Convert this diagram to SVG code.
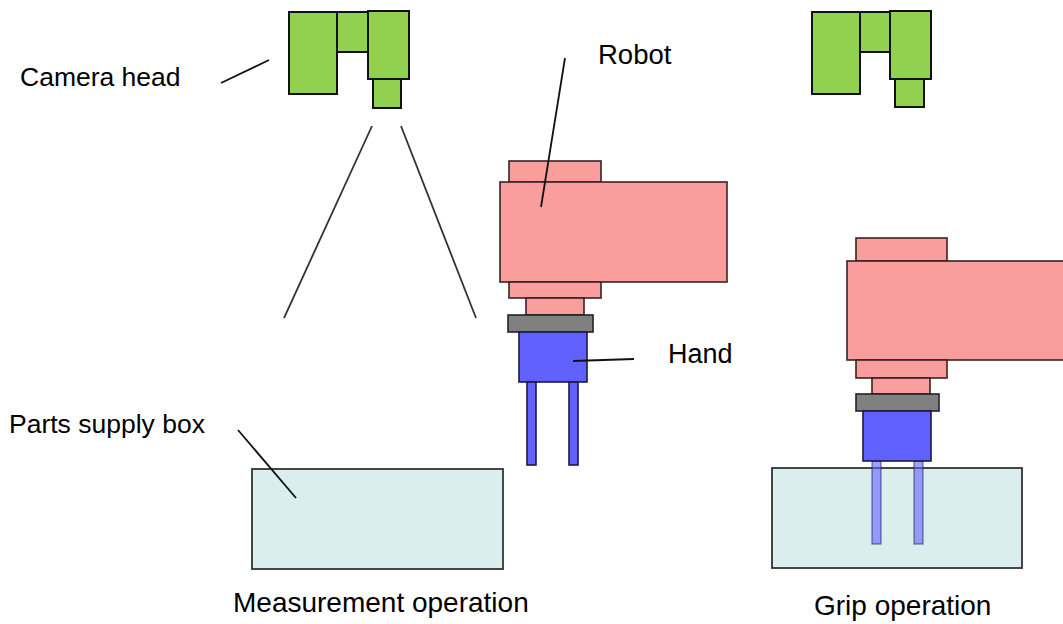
<svg xmlns="http://www.w3.org/2000/svg" width="1063" height="624" viewBox="0 0 1063 624">
  <style>
    .cam { fill: #92d050; stroke: #111; stroke-width: 2; }
    .arm { fill: #fa9d9d; stroke: #3a2222; stroke-width: 1.6; }
    .flange { fill: #808080; stroke: #222; stroke-width: 1.6; }
    .hand { fill: #6161ff; stroke: #1a1a4a; stroke-width: 1.6; }
    .ghost { fill: #6161ff; fill-opacity: 0.6; stroke: #1a1a4a; stroke-opacity: 0.5; stroke-width: 1.4; }
    .box { fill: #dbeeee; stroke: #333; stroke-width: 1.8; }
    .lead { stroke: #111; stroke-width: 1.8; fill: none; }
    .view { stroke: #333; stroke-width: 1.8; fill: none; }
    .lbl { font-family: "Liberation Sans", Arial, sans-serif; font-size: 26.5px; fill: #000; }
    .cap { font-size: 28px; }
  </style>
  <rect width="1063" height="624" fill="#ffffff"/>

  <!-- camera above the measurement station -->
  <g id="camera-measure">
    <rect class="cam" x="289" y="12" width="48" height="82"/>
    <rect class="cam" x="337" y="12" width="31" height="40"/>
    <rect class="cam" x="368" y="11" width="41" height="68"/>
    <rect class="cam" x="373" y="79" width="28" height="29"/>
  </g>

  <!-- camera above the grip station -->
  <g id="camera-grip">
    <rect class="cam" x="812" y="12" width="48" height="82"/>
    <rect class="cam" x="860" y="12" width="30" height="40"/>
    <rect class="cam" x="890" y="11" width="41" height="68"/>
    <rect class="cam" x="895" y="79" width="29" height="28"/>
  </g>

  <!-- robot with hand, measurement pose -->
  <g id="robot-measure">
    <rect class="arm" x="509" y="161" width="92" height="21"/>
    <rect class="arm" x="500" y="182" width="227" height="100"/>
    <rect class="arm" x="509" y="282" width="92" height="16"/>
    <rect class="arm" x="526" y="298" width="58" height="17"/>
    <rect class="flange" x="508" y="315" width="85" height="17"/>
    <rect class="hand" x="519" y="332" width="68" height="50"/>
    <rect class="hand" x="527" y="382" width="9" height="83"/>
    <rect class="hand" x="569" y="382" width="9" height="83"/>
  </g>

  <!-- parts supply box, measurement station -->
  <g id="box-measure">
    <rect class="box" x="252" y="469" width="251" height="100"/>
  </g>

  <!-- parts supply box, grip station -->
  <g id="box-grip">
    <rect class="box" x="772" y="468" width="250" height="100"/>
  </g>

  <!-- robot with hand, grip pose; fingers reach into the box -->
  <g id="robot-grip">
    <rect class="arm" x="856" y="238" width="91" height="23"/>
    <rect class="arm" x="847" y="261" width="220" height="99"/>
    <rect class="arm" x="856" y="360" width="91" height="18"/>
    <rect class="arm" x="872" y="378" width="58" height="16"/>
    <rect class="flange" x="856" y="394" width="83" height="17"/>
    <rect class="ghost" x="872" y="461" width="9" height="83"/>
    <rect class="ghost" x="914" y="461" width="9" height="83"/>
    <rect class="hand" x="863" y="411" width="68" height="50"/>
  </g>

  <!-- leaders and field of view -->
  <g id="connectors">
    <line class="view" x1="372" y1="126" x2="284" y2="318"/>
    <line class="view" x1="401" y1="126" x2="476" y2="318"/>
    <line class="lead" x1="221" y1="83" x2="269" y2="60"/>
    <line class="lead" x1="565" y1="58" x2="541" y2="207"/>
    <line class="lead" x1="573" y1="361" x2="634" y2="359"/>
    <line class="lead" x1="238" y1="430" x2="296" y2="498"/>
  </g>

  <g id="labels">
    <text class="lbl" x="20" y="86">Camera head</text>
    <text class="lbl" x="598" y="64" style="font-size:27.5px">Robot</text>
    <text class="lbl" x="668" y="363" style="font-size:27px">Hand</text>
    <text class="lbl" x="9" y="433">Parts supply box</text>
    <text class="lbl cap" x="233" y="612">Measurement operation</text>
    <text class="lbl cap" x="814" y="615">Grip operation</text>
  </g>
</svg>
